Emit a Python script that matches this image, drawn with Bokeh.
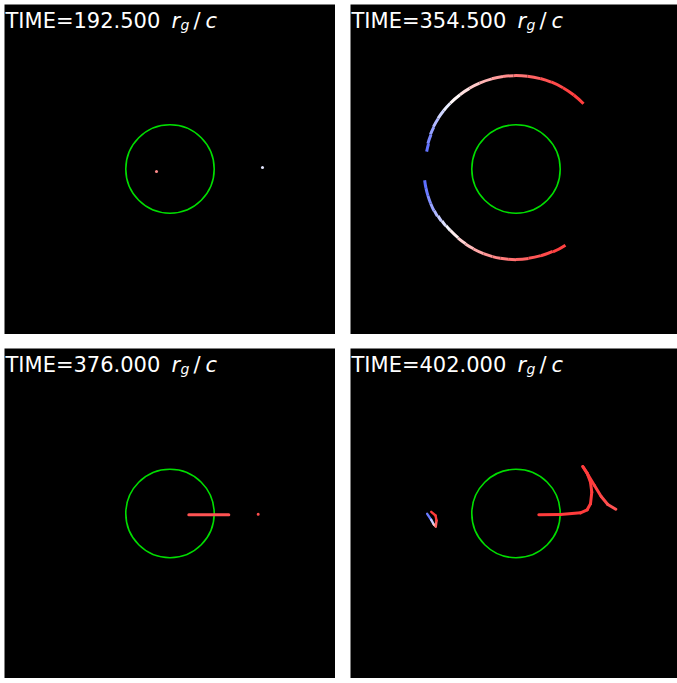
import numpy as np
from bokeh.plotting import figure, gridplot
from bokeh.models import Label, Range1d, ColumnDataSource
from bokeh.transform import linear_cmap
from bokeh.embed import file_html
from bokeh.resources import INLINE

# ---------------- data (data units) ----------------
times = ["192.500", "354.500", "376.000", "402.000"]
horizon_r = 9.75

# panel 1: two small blobs
p1_x = [-2.98, 20.40]
p1_y = [-0.55, 0.33]
p1_v = [0.6, -0.15]

# panel 2: two arcs (edge angles in degrees, radius, colour value at each edge)
p2a_ang = [44, 52, 60, 68, 75, 83, 91.5, 98, 105, 113, 120, 127, 135, 141, 147, 153, 158, 164, 169]
p2a_r = [20.7, 20.7, 20.7, 20.7, 20.65, 20.6, 20.6, 20.6, 20.6, 20.55, 20.55, 20.5, 20.5, 20.5, 20.5, 20.4, 20.3, 20.15, 20.0]
p2a_v = [1.0, 0.98, 0.95, 0.9, 0.85, 0.75, 0.65, 0.55, 0.45, 0.33, 0.22, 0.1, -0.03, -0.18, -0.35, -0.5, -0.65, -0.8, -0.9]
p2b_ang = [187, 192, 197, 202, 207, 211, 215, 219, 223, 230, 236, 242, 249, 255, 260, 265, 270, 278, 286, 294, 303]
p2b_r = [20.3, 20.3, 20.3, 20.3, 20.3, 20.15, 20.0, 19.9, 19.8, 19.85, 19.9, 19.95, 20.0, 20.0, 20.0, 20.0, 20.0, 19.9, 19.85, 19.95, 20.1]
p2b_v = [-0.9, -0.85, -0.75, -0.62, -0.5, -0.37, -0.25, -0.12, 0.0, 0.18, 0.3, 0.4, 0.5, 0.58, 0.65, 0.7, 0.75, 0.83, 0.9, 0.95, 1.0]

# panel 3: radial streak + blob
p3_line_x = [4.15, 12.97]
p3_line_y = [-0.29, -0.29]
p3_line_v = [1.0, 0.75]
p3_dot_x = [19.45]
p3_dot_y = [-0.15]
p3_dot_v = [0.9]

# panel 4: streak with loop, and small hook on the left
p4a_x = [5.03, 9.81, 14.23, 15.70, 16.43, 16.72, 16.43, 15.70, 14.73, 15.84, 17.31, 18.79, 20.25, 22.01]
p4a_y = [-0.29, -0.22, 0.15, 0.82, 2.14, 4.70, 6.90, 8.89, 10.37, 8.60, 6.18, 3.75, 1.99, 0.95]
p4a_v = [1.0, 1.0, 1.0, 1.0, 1.0, 1.0, 1.0, 1.0, 1.0, 1.0, 1.0, 0.95, 0.9, 0.85]
p4b_x = [-19.59, -18.70, -18.13, -17.69, -17.53, -17.75, -18.70]
p4b_y = [-0.07, -1.39, -2.43, -2.87, -1.54, -0.44, 0.37]
p4b_v = [-1.0, -0.6, 0.0, 0.6, 1.0, 1.0, 1.0]

# ---------------- styling ----------------
PX = 4.534  # pixels per data unit
GREEN = "#00dd00"


def make_palette():
    blue = (70, 90, 255)
    white = (255, 255, 255)
    red = (255, 60, 60)
    pal = []
    for i in range(256):
        t = i / 255
        if t < 0.5:
            a, b, u = blue, white, t / 0.5
        else:
            a, b, u = white, red, (t - 0.5) / 0.5
        c = tuple(int(round(a[k] + (b[k] - a[k]) * u)) for k in range(3))
        pal.append("#%02x%02x%02x" % c)
    return pal


PAL = make_palette()


def cmap():
    return linear_cmap("v", PAL, -1.0, 1.0)


def panel(w, h, left_px, bottom_px, t):
    p = figure(width=w, height=h,
               x_range=Range1d(-left_px / PX, (w - left_px) / PX),
               y_range=Range1d(-bottom_px / PX, (h - bottom_px) / PX),
               output_backend="svg", toolbar_location=None,
               x_axis_location=None, y_axis_location=None,
               min_border=0, background_fill_color="black",
               border_fill_color="black", outline_line_color=None)
    p.grid.visible = False
    p.circle(x=[0], y=[0], radius=horizon_r, fill_color=None,
             line_color=GREEN, line_width=1.6)
    base = h - 16.0
    common = dict(x_units="screen", y_units="screen", text_color="white",
                  text_font="DejaVu Sans", text_baseline="alphabetic")
    p.add_layout(Label(x=1, y=base, text="TIME=" + t, text_font_size="21px", **common))
    p.add_layout(Label(x=167, y=base, text="r", text_font_size="21px",
                       text_font_style="italic", **common))
    p.add_layout(Label(x=176, y=base - 4.5, text="g", text_font_size="14px",
                       text_font_style="italic", **common))
    p.add_layout(Label(x=189, y=base, text="/", text_font_size="21px", **common))
    p.add_layout(Label(x=201, y=base, text="c", text_font_size="21px",
                       text_font_style="italic", **common))
    return p


def path(p, xs, ys, vs, width=3.0):
    src = ColumnDataSource(dict(
        x0=xs[:-1], y0=ys[:-1], x1=xs[1:], y1=ys[1:],
        v=[(vs[i] + vs[i + 1]) / 2 for i in range(len(vs) - 1)]))
    p.segment("x0", "y0", "x1", "y1", source=src, line_color=cmap(),
              line_width=width, line_cap="round")


def arcs(p, ang, r, vs, width=3.0):
    a = np.radians(ang)
    src = ColumnDataSource(dict(
        a0=list(a[:-1]), a1=list(a[1:]),
        r=[(r[i] + r[i + 1]) / 2 for i in range(len(r) - 1)],
        v=[(vs[i] + vs[i + 1]) / 2 for i in range(len(vs) - 1)]))
    p.arc(x=0, y=0, radius="r", start_angle="a0", end_angle="a1",
          direction="anticlock", source=src, line_color=cmap(),
          line_width=width, line_cap="butt")


def dots(p, xs, ys, vs, size=3):
    src = ColumnDataSource(dict(x=xs, y=ys, v=vs))
    p.scatter("x", "y", source=src, size=size, color=cmap(), line_color=None)


p1 = panel(331, 330, 165.5, 165.5, times[0])
dots(p1, p1_x, p1_y, p1_v)

p2 = panel(327, 330, 165.5, 165.5, times[1])
arcs(p2, p2a_ang, p2a_r, p2a_v)
arcs(p2, p2b_ang, p2b_r, p2b_v)

p3 = panel(331, 330, 165.5, 165.0, times[2])
path(p3, p3_line_x, p3_line_y, p3_line_v)
dots(p3, p3_dot_x, p3_dot_y, p3_dot_v)

p4 = panel(327, 330, 165.5, 165.0, times[3])
path(p4, p4a_x, p4a_y, p4a_v)
path(p4, p4b_x, p4b_y, p4b_v, width=2.4)

grid = gridplot([[p1, p2], [p3, p4]], toolbar_location=None)
grid.spacing = (14, 15)
grid.styles = {"margin-left": "4px", "margin-top": "4px"}

open("out.html", "w").write(file_html(grid, INLINE))
